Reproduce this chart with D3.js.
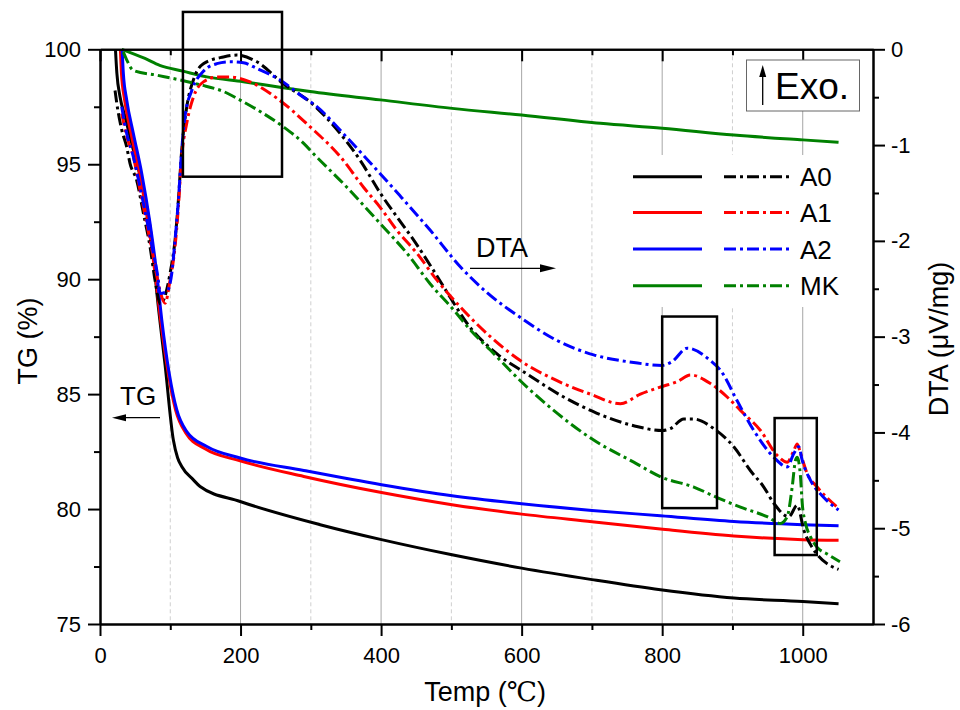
<!DOCTYPE html>
<html>
<head>
<meta charset="utf-8">
<script src="https://cdn.jsdelivr.net/npm/d3@7"></script>
<style>
  body { margin: 0; background: #fff; }
  text { font-family: "Liberation Sans", Arial, sans-serif; fill: #000; }
</style>
</head>
<body>
<svg id="chart" width="960" height="710"></svg>
<script>
// ---- data: [temperature (°C), value] ----
const seriesNames  = ["A0", "A1", "A2", "MK"];
const seriesColors = ["#000000", "#ff0000", "#0000ff", "#008000"];

// TG (%) curves, left axis
const tgA0 = [[22,100],[24,98.96],[28.5,97.94],[35.6,97.07],[47.4,95.62],[61.7,93.88],[73.6,91.71],
  [81.2,89.32],[92.6,86.27],[104.4,83.0],[110.4,82.23],[116.3,81.85],[132.9,81.27],[142.4,80.98],
  [199.4,80.33],[313.3,79.32],[400.6,78.67],[500.9,78.01],[600,77.43],[700.2,76.93],[797.5,76.49],
  [901.9,76.13],[1000,75.98],[1051,75.88]];
const tgA1 = [[29,100],[30.5,98.97],[35,97.8],[44,96.36],[56.3,94.6],[68.4,92.45],[78.3,90.27],
  [86.2,88.23],[107.5,84.32],[121.8,83.32],[149.5,82.62],[199.4,82.1],[290,81.42],[400.6,80.72],
  [500.9,80.19],[600,79.78],[700.2,79.45],[797.5,79.13],[901.9,78.83],[1000,78.67],[1051,78.64]];
const tgA2 = [[31.5,100],[33.2,98.96],[38,97.8],[47.4,96.35],[59.4,94.6],[71.2,92.43],[80.7,90.26],
  [87.9,88.23],[109.2,84.32],[123.5,83.37],[152,82.72],[199.4,82.22],[290,81.68],[400.6,81.06],
  [500.9,80.58],[600,80.23],[700.2,79.94],[797.5,79.71],[901.9,79.46],[1000,79.32],[1051,79.27]];
const tgMK = [[31,100],[64,99.6],[85,99.3],[118,99.05],[152,98.8],[204,98.59],[256,98.35],[299,98.16],
  [399,97.8],[501,97.43],[600,97.14],[712,96.78],[800,96.57],[902,96.27],[1000,96.06],[1051,95.96]];

// DTA (µV/mg) curves, right axis
const dtaA0 = [[21.4,-0.43],[23.8,-0.56],[30.9,-0.84],[38,-1.02],[42.7,-1.19],[52.3,-1.37],[61.7,-1.71],
  [71.2,-2.06],[78.3,-2.41],[86,-2.66],[99.7,-2.34],[106.8,-1.99],[111.5,-1.58],[116.3,-1.05],
  [123.5,-0.6],[132.9,-0.32],[147.1,-0.15],[175.6,-0.08],[194.7,-0.06],[223.2,-0.13],[261,-0.36],
  [299,-0.55],[341.8,-0.88],[370.3,-1.16],[398.7,-1.5],[422.5,-1.75],[446.2,-1.99],[474.7,-2.31],
  [498.4,-2.59],[522.2,-2.86],[565,-3.18],[607.6,-3.39],[659.8,-3.63],[707.3,-3.8],[759.5,-3.93],
  [800,-3.98],[811.7,-3.96],[830.7,-3.86],[844.9,-3.86],[873.4,-3.96],[901.9,-4.15],[925.7,-4.4],
  [944.6,-4.57],[958.9,-4.74],[980.2,-4.88],[992.2,-4.76],[1001.6,-5.02],[1013.5,-5.2],[1051,-5.43]];
const dtaA1 = [[30.9,-0.67],[38,-0.91],[47.4,-1.12],[57,-1.47],[66.5,-1.82],[75.9,-2.17],[85.4,-2.52],
  [92.6,-2.65],[99.7,-2.41],[106.8,-2.06],[111.5,-1.65],[116.3,-1.12],[123.5,-0.77],[132.9,-0.5],
  [147.1,-0.34],[166.2,-0.29],[185.1,-0.29],[213.6,-0.34],[251.6,-0.51],[299.1,-0.81],[341.8,-1.12],
  [375,-1.44],[398.7,-1.65],[422.5,-1.89],[451,-2.13],[479.5,-2.41],[512.7,-2.69],[555.4,-3.0],
  [598.1,-3.25],[650.4,-3.46],[697.8,-3.6],[740.5,-3.7],[769,-3.6],[800,-3.52],[821.3,-3.47],
  [840.3,-3.4],[868.7,-3.49],[892.5,-3.63],[911.4,-3.77],[939.9,-3.98],[963.7,-4.24],[977.9,-4.31],
  [987.3,-4.19],[992.2,-4.12],[996.9,-4.22],[1006.4,-4.43],[1020.6,-4.57],[1049,-4.78]];
const dtaA2 = [[30.9,-0.6],[38,-0.88],[47.4,-1.12],[57,-1.44],[66.5,-1.78],[75.9,-2.13],[83,-2.41],
  [85.4,-2.55],[95,-2.53],[102.1,-2.34],[106.8,-1.99],[111.5,-1.58],[116.3,-1.05],[121,-0.7],
  [130.6,-0.43],[147.1,-0.23],[166.2,-0.15],[185.1,-0.13],[204.1,-0.14],[223.2,-0.2],[256.3,-0.32],
  [289.5,-0.5],[303.8,-0.57],[351.3,-0.92],[388.9,-1.22],[427,-1.53],[470,-1.89],
  [512.7,-2.27],[550.7,-2.54],[598.1,-2.8],[650.4,-3.04],[702.5,-3.19],[759.5,-3.27],[800,-3.3],
  [814.2,-3.26],[835.5,-3.12],[868.7,-3.25],[882.9,-3.35],[906.7,-3.67],[930.4,-3.98],[958.9,-4.26],
  [977.9,-4.36],[987.3,-4.22],[994.4,-4.15],[999.2,-4.29],[1011.1,-4.5],[1030,-4.68],[1051,-4.81]];
const dtaMK = [[33.2,-0.03],[38,-0.11],[47.4,-0.22],[80.7,-0.27],[113.9,-0.32],[142.4,-0.37],
  [175.6,-0.44],[199.4,-0.53],[232.5,-0.67],[261,-0.81],[289.5,-0.98],[303.8,-1.09],[351.3,-1.44],
  [398.7,-1.82],[436.8,-2.13],[470,-2.45],[503.1,-2.72],[526.9,-2.93],[555.4,-3.14],[598.1,-3.46],
  [645.6,-3.77],[702.5,-4.08],[759.5,-4.31],[800,-4.47],[845,-4.57],[878.2,-4.68],[911.4,-4.78],
  [949.4,-4.88],[968.4,-4.95],[977.9,-4.88],[985,-4.57],[989.7,-4.29],[992.2,-4.26],[996.9,-4.47],
  [999.3,-4.74],[1004,-4.95],[1011.1,-5.09],[1020.6,-5.2],[1034.9,-5.27],[1053,-5.35]];

const tgSeries  = [tgA0, tgA1, tgA2, tgMK];
const dtaSeries = [dtaA0, dtaA1, dtaA2, dtaMK];

// axis ticks
const xMajorTicks = [0, 200, 400, 600, 800, 1000];
const xMinorTicks = [100, 300, 500, 700, 900];
const tgMajorTicks = [75, 80, 85, 90, 95, 100];
const tgMinorTicks = [77.5, 82.5, 87.5, 92.5, 97.5];
const dtaMajorTicks = [0, -1, -2, -3, -4, -5, -6];
const dtaMinorTicks = [-0.5, -1.5, -2.5, -3.5, -4.5, -5.5];

// highlighted regions: [T start, T end, DTA top, DTA bottom]
const regionBoxes = [[118, 259, 0.39, -1.33], [800, 878, -2.79, -4.79], [960, 1020, -3.85, -5.28]];

// ---- layout ----
const svg = d3.select("#chart");
const plotLeft = 100, plotRight = 873, plotTop = 49.3, plotBottom = 624;

const x  = d3.scaleLinear([0, 1100], [plotLeft, plotRight]);
const yL = d3.scaleLinear([75, 100], [plotBottom, plotTop]);
const yR = d3.scaleLinear([-6, 0], [plotBottom, plotTop]);

// vertical grid lines
const grid = svg.append("g");
grid.selectAll("line.major").data(xMajorTicks.filter(d => d > 0)).join("line")
  .attr("x1", d => x(d)).attr("x2", d => x(d)).attr("y1", plotTop).attr("y2", plotBottom)
  .attr("stroke", "#a6a6a6").attr("stroke-width", 1);
grid.selectAll("line.minor").data(xMinorTicks).join("line")
  .attr("x1", d => x(d)).attr("x2", d => x(d)).attr("y1", plotTop).attr("y2", plotBottom)
  .attr("stroke", "#cfcfcf").attr("stroke-width", 1).attr("stroke-dasharray", "4,3");

// legend background covers the grid
svg.append("rect").attr("x", 622).attr("y", 155).attr("width", 244).attr("height", 152).attr("fill", "#fff");

// curves
const lineTG  = d3.line().x(d => x(d[0])).y(d => yL(d[1])).curve(d3.curveMonotoneX);
const lineDTA = d3.line().x(d => x(d[0])).y(d => yR(d[1])).curve(d3.curveMonotoneX);
const dashPattern = "12,4,3,4";

const curves = svg.append("g").attr("fill", "none").attr("stroke-linejoin", "round");
tgSeries.forEach((s, i) => {
  curves.append("path").attr("d", lineTG(s))
    .attr("stroke", seriesColors[i]).attr("stroke-width", 3);
});
dtaSeries.forEach((s, i) => {
  curves.append("path").attr("d", lineDTA(s))
    .attr("stroke", seriesColors[i]).attr("stroke-width", 3)
    .attr("stroke-dasharray", dashPattern);
});

// axes
function styleAxis(g) {
  g.selectAll("path.domain").attr("stroke", "#000").attr("stroke-width", 2);
  g.selectAll(".tick line").attr("stroke", "#000").attr("stroke-width", 2);
  g.selectAll("text").attr("font-size", 22).attr("font-family", "Liberation Sans, Arial, sans-serif");
}
function addAxis(axisFn, scale, pos, major, minor, pad, fmt) {
  svg.append("g").attr("transform", pos)
    .call(axisFn(scale).tickValues(minor).tickSize(6).tickSizeOuter(0).tickFormat(""))
    .call(styleAxis);
  svg.append("g").attr("transform", pos)
    .call(axisFn(scale).tickValues(major).tickSize(12).tickSizeOuter(0).tickPadding(pad).tickFormat(fmt))
    .call(styleAxis);
}
const intFmt = d => d < 0 ? "-" + Math.abs(d) : String(d);
addAxis(d3.axisBottom, x, `translate(0,${plotBottom})`, xMajorTicks, xMinorTicks, 11, intFmt);
addAxis(d3.axisBottom, x, `translate(0,${plotTop})`, xMajorTicks, xMinorTicks, 0, () => "");
addAxis(d3.axisLeft, yL, `translate(${plotLeft},0)`, tgMajorTicks, tgMinorTicks, 7, intFmt);
addAxis(d3.axisRight, yR, `translate(${plotRight},0)`, dtaMajorTicks, dtaMinorTicks, 6, intFmt);

// axis titles
svg.append("text").attr("transform", "translate(37,341) rotate(-90)")
  .attr("text-anchor", "middle").attr("font-size", 27).text("TG (%)");
svg.append("text").attr("transform", "translate(948,339) rotate(-90)")
  .attr("text-anchor", "middle").attr("font-size", 27).text("DTA (\u03bcV/mg)");
const xTitle = svg.append("text").attr("x", 485).attr("y", 701)
  .attr("text-anchor", "middle").attr("font-size", 27);
xTitle.append("tspan").text("Temp (");
xTitle.append("tspan").attr("font-family", "DejaVu Serif, Noto Sans CJK SC, serif").text("\u2103");
xTitle.append("tspan").text(")");

// highlighted region boxes
svg.append("g").selectAll("rect").data(regionBoxes).join("rect")
  .attr("x", d => x(d[0])).attr("y", d => yR(d[2]))
  .attr("width", d => x(d[1]) - x(d[0])).attr("height", d => yR(d[3]) - yR(d[2]))
  .attr("fill", "none").attr("stroke", "#000").attr("stroke-width", 2.5);

// arrow helper
function arrow(x1, y1, x2, y2, head, halfW) {
  const g = svg.append("g");
  const ang = Math.atan2(y2 - y1, x2 - x1);
  const bx = x2 - head * Math.cos(ang), by = y2 - head * Math.sin(ang);
  g.append("line").attr("x1", x1).attr("y1", y1).attr("x2", bx).attr("y2", by)
    .attr("stroke", "#000").attr("stroke-width", 1.3);
  const px = -Math.sin(ang) * halfW, py = Math.cos(ang) * halfW;
  g.append("path").attr("d", `M${x2},${y2}L${bx + px},${by + py}L${bx - px},${by - py}Z`).attr("fill", "#000");
}

// series labels with arrows
svg.append("text").attr("x", 476).attr("y", 257).attr("font-size", 27).text("DTA");
arrow(470, 268.3, 556, 268.3, 16, 4);
svg.append("text").attr("x", 120).attr("y", 405).attr("font-size", 26).text("TG");
arrow(160, 417.7, 112, 417.7, 14, 3.5);

// Exo box
svg.append("rect").attr("x", 746.5).attr("y", 60).attr("width", 113).attr("height", 51)
  .attr("fill", "#fff").attr("stroke", "#666").attr("stroke-width", 1);
arrow(762.7, 105, 762.7, 65, 12, 3.5);
svg.append("text").attr("x", 775).attr("y", 99).attr("font-size", 37).text("Exo.");

// legend
const legendRows = [176.7, 212.5, 249, 285.7];
const legend = svg.append("g");
seriesNames.forEach((name, i) => {
  const yy = legendRows[i];
  legend.append("line").attr("x1", 633).attr("x2", 702).attr("y1", yy).attr("y2", yy)
    .attr("stroke", seriesColors[i]).attr("stroke-width", 3);
  legend.append("line").attr("x1", 724).attr("x2", 790).attr("y1", yy).attr("y2", yy)
    .attr("stroke", seriesColors[i]).attr("stroke-width", 3).attr("stroke-dasharray", dashPattern);
  legend.append("text").attr("x", 800).attr("y", yy + 9.5).attr("font-size", 26).text(name);
});
</script>
</body>
</html>
